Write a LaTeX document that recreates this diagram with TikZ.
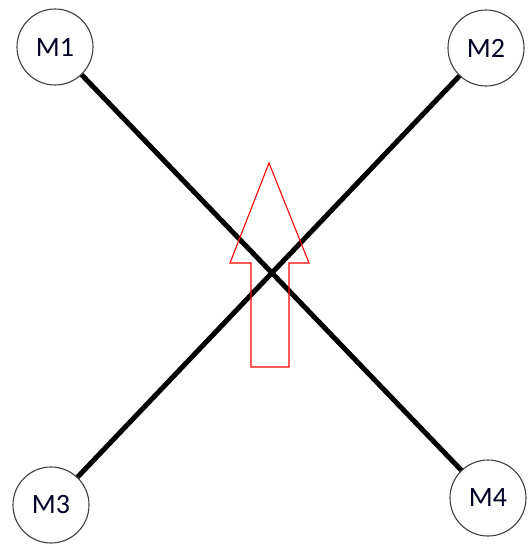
\documentclass[tikz,border=0pt]{standalone}
\usepackage{fontspec}
\setmainfont{Carlito}
\begin{document}
\begin{tikzpicture}[x=1pt,y=-1pt,
  motor/.style={circle, draw=black!75, line width=1.1pt, fill=white,
    minimum size=76pt, inner sep=0pt, font=\fontsize{28}{28}\selectfont,
    text=black!85!blue},
  arm/.style={line width=5pt, black},
  heading/.style={draw=red, line width=1.1pt, line join=miter}]
  \useasboundingbox (0,0) rectangle (531,550);
  % motors at the corners of the frame
  \node[motor] (m1) at (55,47) {M1};
  \node[motor] (m2) at (486,48) {M2};
  \node[motor] (m3) at (51,505) {M3};
  \node[motor] (m4) at (488,498) {M4};
  % frame arms
  \draw[arm] (m1) -- (m4);
  \draw[arm] (m2) -- (m3);
  % heading arrow
  \draw[heading] (269,163) -- (309,263) -- (289,263) -- (289,367)
    -- (251,367) -- (251,263) -- (230,263) -- cycle;
\end{tikzpicture}
\end{document}
